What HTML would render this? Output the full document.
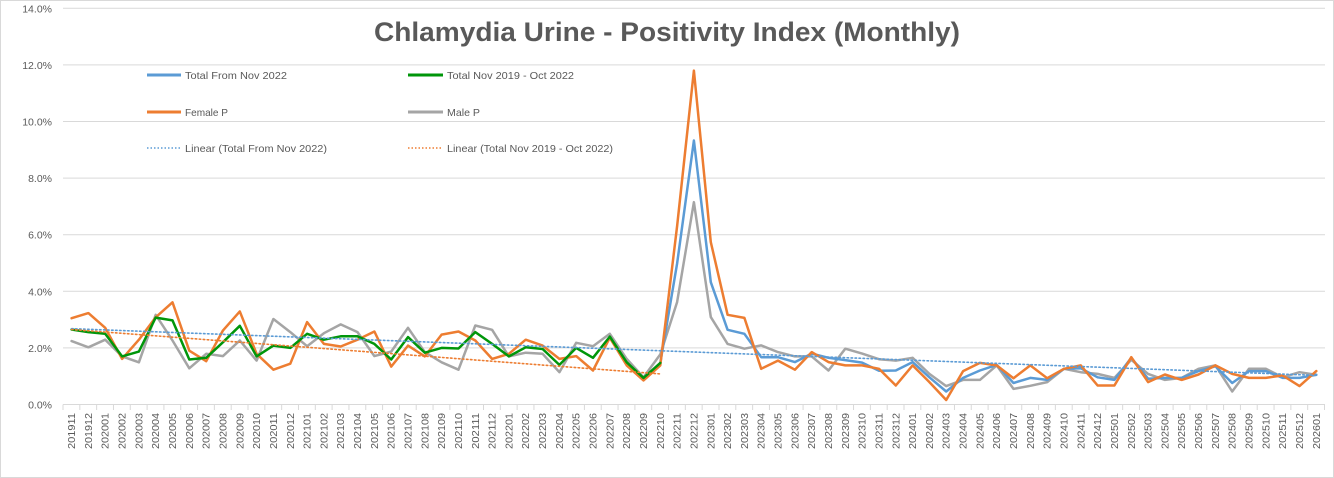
<!DOCTYPE html>
<html><head><meta charset="utf-8"><style>
html,body{margin:0;padding:0;background:#fff;}
svg{display:block;font-family:"Liberation Sans",sans-serif;}
</style></head><body>
<svg id="c" width="1334" height="478" viewBox="0 0 1334 478" xmlns="http://www.w3.org/2000/svg">
<rect x="0.5" y="0.5" width="1333" height="477" fill="#fff" stroke="#d9d9d9"/>
<g id="grid" stroke="#d9d9d9" stroke-width="1"></g>
<g id="ylab" fill="#595959" font-size="10.5" text-anchor="end"></g>
<g id="xlab" fill="#595959" font-size="10.5"></g>
<g id="series" fill="none" stroke-linejoin="round" stroke-linecap="round"></g>
<text x="667" y="41" text-anchor="middle" font-size="27" font-weight="bold" fill="#595959" textLength="586" lengthAdjust="spacingAndGlyphs">Chlamydia Urine - Positivity Index (Monthly)</text>
<g font-size="10.5" fill="#595959">
<line x1="147" y1="75" x2="181" y2="75" stroke="#5b9bd5" stroke-width="3"/>
<text x="185" y="79" textLength="102" lengthAdjust="spacingAndGlyphs">Total From Nov 2022</text>
<line x1="408" y1="75" x2="443" y2="75" stroke="#00960a" stroke-width="3"/>
<text x="447" y="79" textLength="127" lengthAdjust="spacingAndGlyphs">Total Nov 2019 - Oct 2022</text>
<line x1="147" y1="112" x2="181" y2="112" stroke="#ed7d31" stroke-width="3"/>
<text x="185" y="116" textLength="43" lengthAdjust="spacingAndGlyphs">Female P</text>
<line x1="408" y1="112" x2="443" y2="112" stroke="#a5a5a5" stroke-width="3"/>
<text x="447" y="116" textLength="33" lengthAdjust="spacingAndGlyphs">Male P</text>
<line x1="147" y1="148" x2="181" y2="148" stroke="#5b9bd5" stroke-width="1.5" stroke-dasharray="1.5 2"/>
<text x="185" y="152" textLength="142" lengthAdjust="spacingAndGlyphs">Linear (Total From Nov 2022)</text>
<line x1="408" y1="148" x2="443" y2="148" stroke="#ed7d31" stroke-width="1.5" stroke-dasharray="1.5 2"/>
<text x="447" y="152" textLength="166" lengthAdjust="spacingAndGlyphs">Linear (Total Nov 2019 - Oct 2022)</text>
</g>
</svg>
<script>
var NS="http://www.w3.org/2000/svg";
function el(p,t,a,txt){var e=document.createElementNS(NS,t);for(var k in a)e.setAttribute(k,a[k]);if(txt!=null)e.textContent=txt;document.getElementById(p).appendChild(e);return e;}
var X0=71.6,DX=16.82,L=63,R=1325;
function X(i){return X0+DX*i;}
function Y(v){return 404.5-v*28.3;}
for(var k=0;k<=7;k++){var y=Y(k*2);el("grid","line",{x1:L,x2:R,y1:y,y2:y});el("ylab","text",{x:52,y:y+4},(k*2).toFixed(1)+"%");}
for(var i=0;i<=75;i++){var x=L+DX*i;el("grid","line",{x1:x,x2:x,y1:404.5,y2:410});}
var labs=[];for(var i=0;i<75;i++){var m=(10+i)%12+1,yr=2019+Math.floor((10+i)/12);labs.push(""+yr+(m<10?"0":"")+m);}
labs.forEach(function(s,i){var x=X(i)+3.5;el("xlab","text",{x:0,y:0,transform:"translate("+x+",449) rotate(-90)",textLength:36,lengthAdjust:"spacingAndGlyphs"},s);});
var green=[2.65,2.56,2.50,1.70,1.87,3.07,2.97,1.59,1.65,2.20,2.78,1.70,2.08,2.00,2.50,2.29,2.41,2.41,2.14,1.59,2.38,1.83,2.0,1.98,2.56,2.14,1.70,2.02,1.96,1.40,2.0,1.65,2.4,1.49,0.94,1.47];
var orange=[3.05,3.23,2.71,1.61,2.29,3.08,3.61,1.9,1.53,2.62,3.29,1.79,1.23,1.44,2.91,2.14,2.05,2.29,2.58,1.34,2.08,1.70,2.47,2.58,2.26,1.61,1.79,2.29,2.08,1.61,1.71,1.20,2.36,1.38,0.85,1.38,
6.3,11.8,5.74,3.17,3.06,1.26,1.55,1.23,1.85,1.5,1.38,1.38,1.26,0.67,1.38,0.79,0.16,1.18,1.47,1.38,0.93,1.38,0.93,1.26,1.38,0.67,0.67,1.67,0.79,1.06,0.87,1.06,1.38,1.08,0.94,0.94,1.03,0.65,1.18];
var gray=[2.24,2.02,2.29,1.70,1.49,3.17,2.26,1.28,1.79,1.71,2.26,1.55,3.02,2.56,2.06,2.52,2.83,2.56,1.71,1.87,2.71,1.85,1.49,1.23,2.79,2.64,1.70,1.83,1.79,1.14,2.18,2.06,2.50,1.61,0.96,1.77,
3.62,7.15,3.09,2.14,1.97,2.09,1.85,1.7,1.7,1.2,1.97,1.8,1.6,1.55,1.65,1.08,0.65,0.87,0.87,1.38,0.55,0.66,0.79,1.26,1.14,1.08,0.94,1.58,1.08,0.87,0.94,1.26,1.38,0.46,1.26,1.26,0.96,1.14,1.05];
var blue=[];for(var i=0;i<35;i++)blue.push(null);
blue=blue.concat([1.47,4.98,9.33,4.32,2.64,2.5,1.67,1.67,1.5,1.8,1.65,1.57,1.48,1.19,1.2,1.5,0.96,0.46,0.94,1.2,1.4,0.76,0.94,0.87,1.26,1.28,0.96,0.87,1.65,0.91,0.94,0.94,1.18,1.35,0.76,1.18,1.18,0.94,0.94,1.05]);
function path(d){var s="",f=true;d.forEach(function(v,i){if(v==null)return;s+=(f?"M":"L")+X(i).toFixed(1)+","+Y(v).toFixed(1);f=false;});return s;}
el("series","path",{d:path(gray),stroke:"#a5a5a5","stroke-width":2.5});
el("series","path",{d:path(blue),stroke:"#5b9bd5","stroke-width":2.5});
el("series","path",{d:path(orange),stroke:"#ed7d31","stroke-width":2.5});
el("series","path",{d:path(green),stroke:"#00960a","stroke-width":2.5});
el("series","line",{x1:X(0),y1:Y(2.68),x2:X(74),y2:Y(1.03),stroke:"#5b9bd5","stroke-width":1.6,"stroke-dasharray":"1.5 2.5"});
el("series","line",{x1:X(0),y1:Y(2.65),x2:X(35),y2:Y(1.08),stroke:"#ed7d31","stroke-width":1.6,"stroke-dasharray":"1.5 2.5"});
</script>
</body></html>
